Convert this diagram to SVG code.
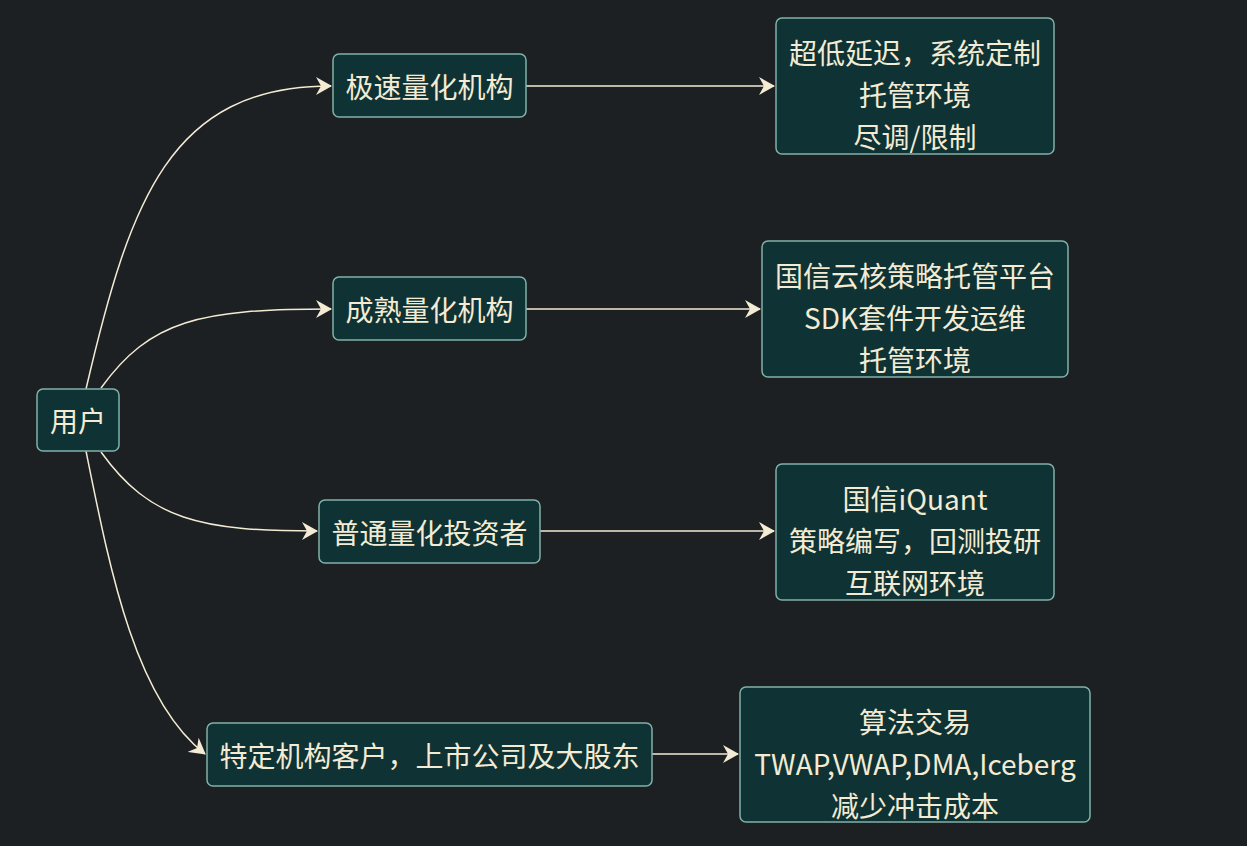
<svg xmlns="http://www.w3.org/2000/svg" width="1247" height="846" viewBox="0 0 1247 846">
<defs>
<style>
.n rect{fill:#0f3234;stroke:#81b1a8;stroke-width:1.5}
.n text{fill:#f3ebd3;font-family:"Noto Sans CJK SC","Noto Sans",sans-serif;font-size:28px;text-anchor:middle;dominant-baseline:central}
.e path{fill:none;stroke:#f3ebd3;stroke-width:1.5}
</style>
<marker id="ah" viewBox="0 0 16 18" refX="15" refY="9" markerWidth="16" markerHeight="18" markerUnits="userSpaceOnUse" orient="auto">
<path d="M0,0 L16,9 L0,18 L5,9 z" fill="#f3ebd3"/>
</marker>
</defs>
<rect width="1247" height="846" fill="#1c2023"/>
<g id="connectors" class="e">
<path d="M86,389 C130,200 170,86 331,86" marker-end="url(#ah)"/>
<path d="M101,388 C150,320 200,309 331,309" marker-end="url(#ah)"/>
<path d="M101,452 C150,520 200,531 317,531" marker-end="url(#ah)"/>
<path d="M86,451 C110,570 135,700 205,754" marker-end="url(#ah)"/>
<path d="M526,86 L774,86" marker-end="url(#ah)"/>
<path d="M526,309 L760,309" marker-end="url(#ah)"/>
<path d="M540,531 L774,531" marker-end="url(#ah)"/>
<path d="M652,754 L738,754" marker-end="url(#ah)"/>
</g>
<g id="user" class="n"><rect x="37" y="389" width="82" height="62" rx="6"/><text x="78" y="420">用户</text></g>
<g id="n1" class="n"><rect x="333" y="54" width="193" height="63" rx="6"/><text x="429.5" y="86">极速量化机构</text></g>
<g id="n2" class="n"><rect x="333" y="277" width="193" height="63" rx="6"/><text x="429.5" y="309">成熟量化机构</text></g>
<g id="n3" class="n"><rect x="319" y="500" width="221" height="63" rx="6"/><text x="429.5" y="532">普通量化投资者</text></g>
<g id="n4" class="n"><rect x="207" y="723" width="445" height="63" rx="6"/><text x="429.5" y="755">特定机构客户，上市公司及大股东</text></g>
<g id="d1" class="n"><rect x="776" y="18" width="278" height="136" rx="6"/><text x="915" y="52">超低延迟，系统定制</text><text x="915" y="94">托管环境</text><text x="915" y="136">尽调/限制</text></g>
<g id="d2" class="n"><rect x="762" y="241" width="306" height="136" rx="6"/><text x="915" y="275">国信云核策略托管平台</text><text x="915" y="317">SDK套件开发运维</text><text x="915" y="359">托管环境</text></g>
<g id="d3" class="n"><rect x="776" y="464" width="278" height="136" rx="6"/><text x="915" y="498">国信iQuant</text><text x="915" y="540">策略编写，回测投研</text><text x="915" y="582">互联网环境</text></g>
<g id="d4" class="n"><rect x="740" y="687" width="350" height="135" rx="6"/><text x="915" y="721">算法交易</text><text x="915" y="763">TWAP,VWAP,DMA,Iceberg</text><text x="915" y="805">减少冲击成本</text></g>
</svg>
